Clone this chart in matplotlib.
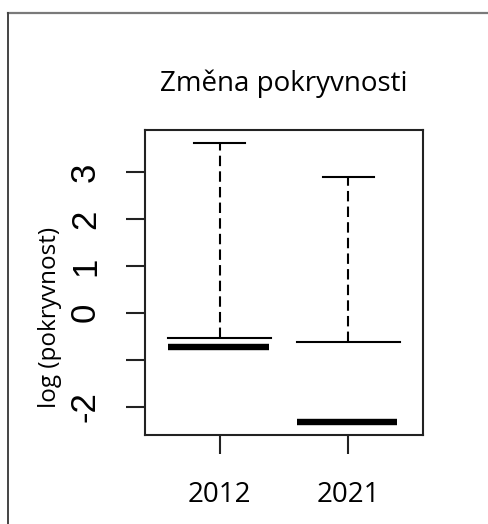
import matplotlib
matplotlib.use('Agg')
import matplotlib.pyplot as plt
from matplotlib.lines import Line2D

# values (log scale)
years = ['2012', '2021']
whisker_top = [3.61, 2.90]
upper_hinge = [-0.54, -0.62]
medians = [-0.72, -2.33]
ytick_vals = [-2, -1, 0, 1, 2, 3]
ytick_labels = ['-2', '', '0', '1', '2', '3']

plt.rcParams['font.family'] = ['Open Sans', 'DejaVu Sans']

fig = plt.figure(figsize=(4.88, 5.24), dpi=100)
ax = fig.add_axes([145 / 488, 89 / 524, 278 / 488, 305 / 524])

pos = [1, 2]
for x, top, q3, med in zip(pos, whisker_top, upper_hinge, medians):
    # dashed whisker + cap
    ax.plot([x, x], [q3, top], color='black', lw=1.5, ls=(0, (5, 2.5)))
    ax.plot([x - 0.2, x + 0.2], [top, top], color='black', lw=1.5)
    # upper hinge
    ax.plot([x - 0.4, x + 0.4], [q3, q3], color='black', lw=1.5)
    # median (thick)
    ax.plot([x - 0.4, x + 0.38], [med, med], color='black', lw=4.6, solid_capstyle='butt')

ax.set_xlim(0.42, 2.58)
ax.set_ylim(-2.6, 3.89)
ax.set_xticks(pos)
ax.set_xticklabels(years, fontsize=20)
ax.set_yticks(ytick_vals)
ax.set_yticklabels(ytick_labels, fontsize=25, rotation=90, va='center',
                   family=['Liberation Sans', 'DejaVu Sans'])
ax.tick_params(axis='both', length=14, width=1.5, color='#222222')
ax.tick_params(axis='y', pad=17)
ax.tick_params(axis='x', pad=19)
for s in ax.spines.values():
    s.set_linewidth(1.5)
    s.set_color('#222222')

ax.set_title('Změna pokryvnosti', fontsize=20, pad=28)
ax.set_ylabel('log (pokryvnost)', fontsize=17.5)
ax.yaxis.set_label_coords(-0.297, 0.387)

# frame of the screenshot (top and left edges)
fig.add_artist(Line2D([8 / 488, 1.0], [1 - 13 / 524, 1 - 13 / 524],
                      transform=fig.transFigure, color='#7a7a7a', lw=1.6))
fig.add_artist(Line2D([8 / 488, 8 / 488], [0, 1 - 13 / 524],
                      transform=fig.transFigure, color='#444444', lw=1.4))

fig.savefig('out.png', dpi=100)
